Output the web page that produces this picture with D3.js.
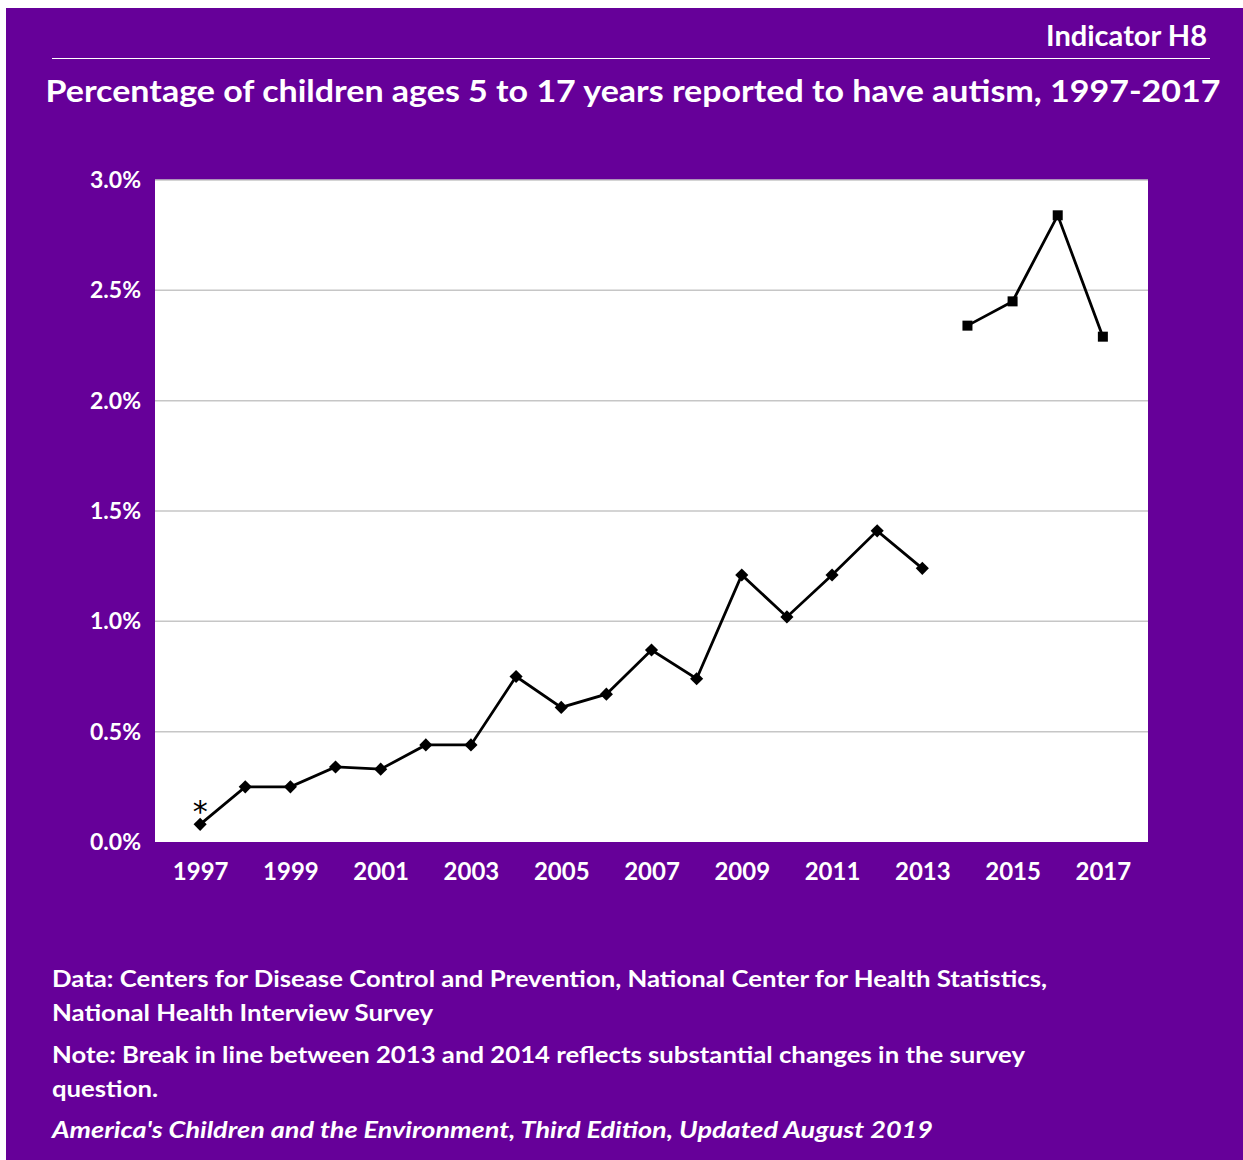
<!DOCTYPE html>
<html>
<head>
<meta charset="utf-8">
<script src="https://cdn.jsdelivr.net/npm/d3@7"></script>
<style>
  body { margin: 0; background: #fff; }
  svg text { font-family: Lato, "Open Sans", sans-serif; font-weight: bold; fill: #fff; }
</style>
</head>
<body>
<div id="chart"></div>
<script>
// years and values (percent)
const years1 = [1997, 1998, 1999, 2000, 2001, 2002, 2003, 2004, 2005, 2006, 2007, 2008, 2009, 2010, 2011, 2012, 2013];
const values1 = [0.08, 0.25, 0.25, 0.34, 0.33, 0.44, 0.44, 0.75, 0.61, 0.67, 0.87, 0.74, 1.21, 1.02, 1.21, 1.41, 1.24];
const years2 = [2014, 2015, 2016, 2017];
const values2 = [2.34, 2.45, 2.84, 2.29];
const allYears = d3.range(1997, 2018);
const yTicks = [0, 0.5, 1.0, 1.5, 2.0, 2.5, 3.0];
const xTickYears = [1997, 1999, 2001, 2003, 2005, 2007, 2009, 2011, 2013, 2015, 2017];
const footLines = [
    "Data: Centers for Disease Control and Prevention, National Center for Health Statistics,",
    "National Health Interview Survey",
    "Note: Break in line between 2013 and 2014 reflects substantial changes in the survey",
    "question."
];
const credit = "America's Children and the Environment, Third Edition, Updated August 2019";

const W = 1243, H = 1160;
const purple = "#660099";

const svg = d3.select("#chart").append("svg")
    .attr("width", W)
    .attr("height", H);

svg.append("rect")
    .attr("x", 6).attr("y", 8)
    .attr("width", W - 6).attr("height", H - 8)
    .attr("fill", purple);

// header
svg.append("text")
    .attr("x", 1207).attr("y", 46)
    .attr("text-anchor", "end")
    .attr("textLength", 161)
    .attr("lengthAdjust", "spacingAndGlyphs")
    .style("font-size", "28px")
    .text("Indicator H8");

svg.append("line")
    .attr("x1", 52).attr("x2", 1210)
    .attr("y1", 58.5).attr("y2", 58.5)
    .attr("stroke", "#fff").attr("stroke-width", 1.2);

svg.append("text")
    .attr("x", 633).attr("y", 102)
    .attr("text-anchor", "middle")
    .attr("textLength", 1175)
    .attr("lengthAdjust", "spacingAndGlyphs")
    .style("font-size", "31px")
    .text("Percentage of children ages 5 to 17 years reported to have autism, 1997-2017");

// plot
const pL = 155, pR = 1148, pT = 180, pB = 842;

const x = d3.scalePoint()
    .domain(allYears)
    .range([pL, pR])
    .padding(1);

const y = d3.scaleLinear()
    .domain([0, 3])
    .range([pB, pT]);

svg.append("rect")
    .attr("x", pL).attr("y", pT)
    .attr("width", pR - pL).attr("height", pB - pT)
    .attr("fill", "#fff");

svg.append("g")
    .selectAll("line")
    .data(yTicks.filter(d => d > 0))
    .join("line")
    .attr("x1", pL).attr("x2", pR)
    .attr("y1", d => y(d)).attr("y2", d => y(d))
    .attr("stroke", "#c6c6c6")
    .attr("stroke-width", 1.5);

// y axis labels
const yAxis = svg.append("g")
    .attr("transform", `translate(${pL},0)`)
    .call(d3.axisLeft(y).tickValues(yTicks).tickFormat(d => d.toFixed(1) + "%").tickSize(0).tickPadding(14));
yAxis.select(".domain").remove();
yAxis.selectAll("text")
    .attr("fill", "#fff")
    .style("font-size", "23px")
    .style("font-family", "Lato, sans-serif")
    .style("font-weight", "bold");

// x axis labels
const xAxis = svg.append("g")
    .attr("transform", `translate(0,${pB})`)
    .call(d3.axisBottom(x).tickValues(xTickYears).tickSize(0).tickPadding(21));
xAxis.select(".domain").remove();
xAxis.selectAll("text")
    .attr("fill", "#fff")
    .style("font-size", "24px")
    .style("font-family", "Lato, sans-serif")
    .style("font-weight", "bold");

const line = d3.line()
    .x(d => x(d[0]))
    .y(d => y(d[1]));

const data1 = years1.map((yr, i) => [yr, values1[i]]);
const data2 = years2.map((yr, i) => [yr, values2[i]]);

svg.append("path")
    .datum(data1)
    .attr("d", line)
    .attr("fill", "none")
    .attr("stroke", "#000")
    .attr("stroke-width", 2.8);

svg.append("path")
    .datum(data2)
    .attr("d", line)
    .attr("fill", "none")
    .attr("stroke", "#000")
    .attr("stroke-width", 2.8);

svg.append("g")
    .selectAll("path")
    .data(data1)
    .join("path")
    .attr("transform", d => `translate(${x(d[0])},${y(d[1])})`)
    .attr("d", d3.symbol(d3.symbolDiamond2, 110))
    .attr("fill", "#000");

svg.append("g")
    .selectAll("rect")
    .data(data2)
    .join("rect")
    .attr("x", d => x(d[0]) - 5)
    .attr("y", d => y(d[1]) - 5)
    .attr("width", 10).attr("height", 10)
    .attr("fill", "#000");

// asterisk on 1997
svg.append("text")
    .attr("x", x(1997)).attr("y", y(values1[0]) - 2)
    .attr("text-anchor", "middle")
    .style("fill", "#000")
    .style("font-weight", "normal")
    .style("font-family", "'DejaVu Sans', sans-serif")
    .style("font-size", "30px")
    .text("*");

// footer
const footWidths = [995, 381, 973, 106];
svg.append("g")
    .selectAll("text")
    .data(footLines)
    .join("text")
    .attr("x", 52)
    .attr("y", (d, i) => [987, 1021, 1063, 1097][i])
    .attr("textLength", (d, i) => footWidths[i])
    .attr("lengthAdjust", "spacingAndGlyphs")
    .style("font-size", "23px")
    .text(d => d);

svg.append("text")
    .attr("x", 52).attr("y", 1138)
    .attr("textLength", 881)
    .attr("lengthAdjust", "spacingAndGlyphs")
    .style("font-size", "23px")
    .style("font-style", "italic")
    .text(credit);
</script>
</body>
</html>
